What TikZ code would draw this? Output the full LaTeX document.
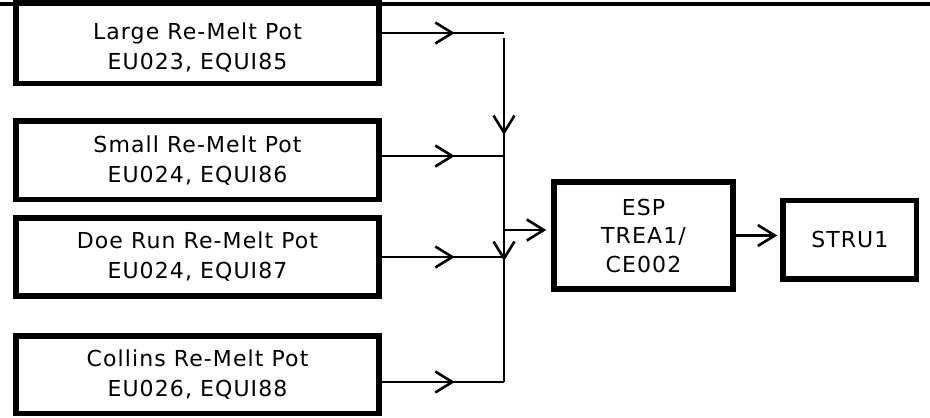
\documentclass[tikz,border=0pt]{standalone}
\usepackage{fontspec}
\usetikzlibrary{arrows.meta,decorations.markings}
\newfontfamily\boxfont{DejaVu Sans}[LetterSpace=5]
\tikzset{
  box/.style={draw, line width=5.5pt, rectangle, align=center, inner sep=0pt,
    font=\boxfont\fontsize{22}{30}\selectfont},
  conn/.style={draw, line width=2.6pt},
  barb/.tip={Straight Barb[length=17pt,width=21pt]},
  tipat/.style={postaction={decorate}, decoration={markings,
    mark=at position #1 with {\arrow{barb}}}},
  tipat2/.style 2 args={postaction={decorate}, decoration={markings,
    mark=at position #1 with {\arrow{barb}},
    mark=at position #2 with {\arrow{barb}}}}
}
\begin{document}
\begin{tikzpicture}[x=1pt,y=-1pt]
\useasboundingbox (0,0) rectangle (930,418);
% boxes
\node[box, minimum width=363pt, minimum height=80.5pt] (b1) at (197.5,43.25)
  {\rule{0pt}{26pt}Large Re-Melt Pot\\EU023, EQUI85};
\node[box, minimum width=363pt, minimum height=78.5pt] (b2) at (197.5,160.25)
  {Small Re-Melt Pot\\EU024, EQUI86};
\node[box, minimum width=363pt, minimum height=78pt] (b3) at (197.5,257)
  {Doe Run Re-Melt Pot\\EU024, EQUI87};
\node[box, minimum width=363pt, minimum height=77.5pt] (b4) at (197.5,374.75)
  {Collins Re-Melt Pot\\EU026, EQUI88};
\node[box, minimum width=179pt, minimum height=107pt, font=\boxfont\fontsize{22}{28.5}\selectfont] (esp) at (643.5,235.5)
  {ESP\\TREA1/\\CE002};
\node[box, minimum width=133.7pt, minimum height=78.5pt] (stru) at (849.85,239.75)
  {STRU1};
% top rule
\draw[line width=3.2pt] (0,4) -- (930,4);
% junction points on the bus
\coordinate (j1) at (504,33);
\coordinate (j2) at (504,156);
\coordinate (j3) at (504,257);
\coordinate (j4) at (504,382);
\coordinate (je) at (504,230);
\coordinate (vtop) at (504,38);
% connectors
\draw[conn, tipat=73pt] (b1.east |- j1) -- (j1);
\draw[conn, tipat=73pt] (b2.east |- j2) -- (j2);
\draw[conn, tipat=73pt] (b3.east |- j3) -- (j3);
\draw[conn, tipat=73pt] (b4.east |- j4) -- (j4);
\draw[conn, tipat2={97pt}{223pt}] (vtop) -- (j4);
\draw[conn, -barb, shorten >=5pt] (je) -- (esp.west |- je);
\draw[conn, -barb, shorten >=3pt] (esp.east) -- (esp.east -| stru.west);
\end{tikzpicture}
\end{document}
